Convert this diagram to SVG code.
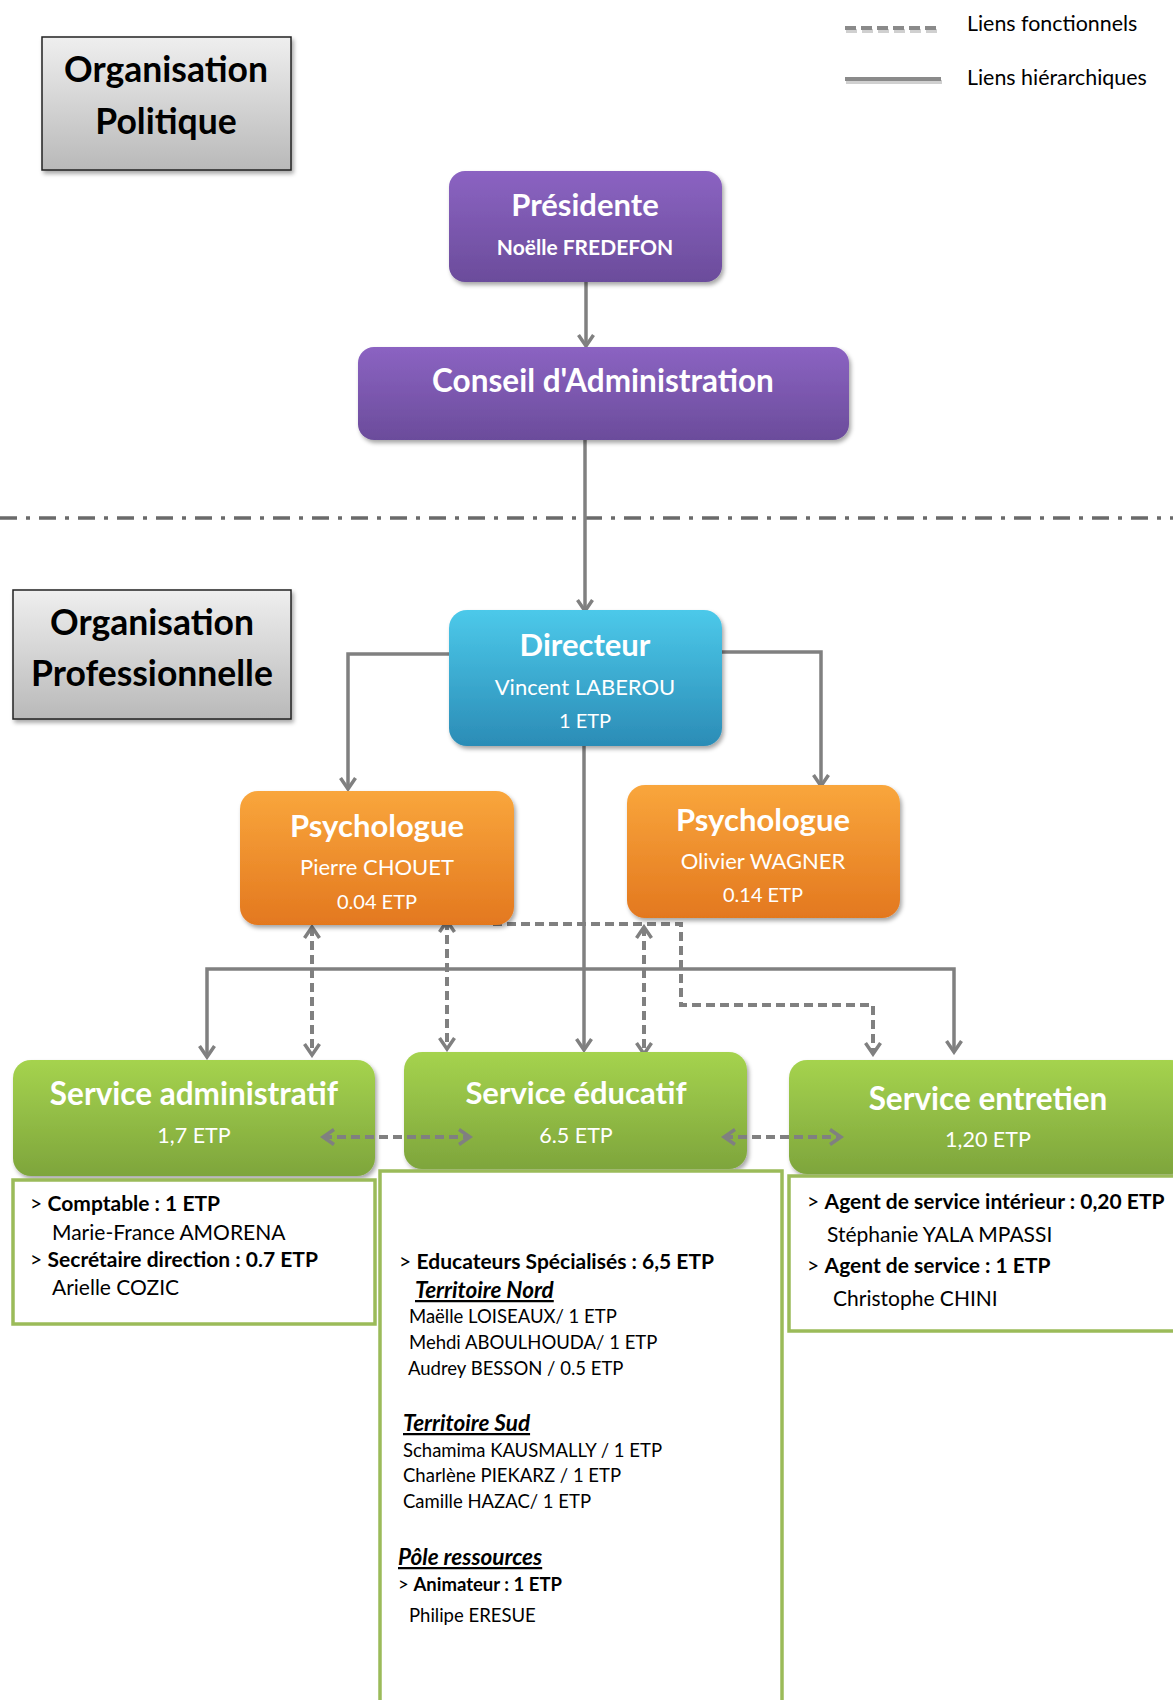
<svg xmlns="http://www.w3.org/2000/svg" width="1173" height="1700" viewBox="0 0 1173 1700">
<style>
text{font-family:Lato,"Open Sans","Liberation Sans",sans-serif}
.t{fill:#fff;text-anchor:middle}
.b{font-weight:bold}
.d{fill:#000;font-size:21px}
.n{fill:#000;font-size:18.5px}
.h{fill:#000;font-size:22.5px;font-weight:bold;font-style:italic;text-decoration:underline}
.conn{fill:none;stroke:#808080;stroke-width:3.5}
.dash{fill:none;stroke:#808080;stroke-width:4;stroke-dasharray:9 5}
.det{fill:#fff;stroke:#9bbb59;stroke-width:3.5}
</style>
<defs>
<linearGradient id="gGrey" x1="0" y1="0" x2="0" y2="1"><stop offset="0" stop-color="#efefef"/><stop offset="1" stop-color="#b9b9b9"/></linearGradient>
<linearGradient id="gPurple" x1="0" y1="0" x2="0" y2="1"><stop offset="0" stop-color="#8b63c2"/><stop offset="1" stop-color="#6b4c9b"/></linearGradient>
<linearGradient id="gBlue" x1="0" y1="0" x2="0" y2="1"><stop offset="0" stop-color="#4cc9ea"/><stop offset="1" stop-color="#2b8cb6"/></linearGradient>
<linearGradient id="gOrange" x1="0" y1="0" x2="0" y2="1"><stop offset="0" stop-color="#f9a63c"/><stop offset="1" stop-color="#e3781f"/></linearGradient>
<linearGradient id="gGreen" x1="0" y1="0" x2="0" y2="1"><stop offset="0" stop-color="#a5d34e"/><stop offset="1" stop-color="#7ea53c"/></linearGradient>
<filter id="sh" x="-10%" y="-10%" width="125%" height="130%"><feDropShadow dx="2" dy="3" stdDeviation="2" flood-opacity="0.35"/></filter>
<marker id="ah" markerUnits="userSpaceOnUse" markerWidth="22" markerHeight="22" viewBox="0 0 22 22" refX="19" refY="11" orient="auto-start-reverse">
<path d="M8,3.5 L19,11 L8,18.5" fill="none" stroke="#808080" stroke-width="3.5"/>
</marker>
</defs>

<g id="legend">
<line x1="846" y1="31" x2="942" y2="31" stroke="#d0d0d0" stroke-width="4" stroke-dasharray="11 5"/>
<line x1="845" y1="28" x2="941" y2="28" stroke="#8a8a8a" stroke-width="4" stroke-dasharray="11 5"/>
<line x1="846" y1="82" x2="942" y2="82" stroke="#d0d0d0" stroke-width="4"/>
<line x1="845" y1="79" x2="941" y2="79" stroke="#8a8a8a" stroke-width="4"/>
<text x="967" y="31" font-size="21.4" fill="#000">Liens fonctionnels</text>
<text x="967" y="85" font-size="21.4" fill="#000">Liens hiérarchiques</text>
</g>

<g id="separator">
<line x1="0" y1="518" x2="1173" y2="518" stroke="#6a6a6a" stroke-width="3.5" stroke-dasharray="17 9 4 9"/>
</g>

<g id="org-politique">
<rect x="42" y="37" width="249" height="133" fill="url(#gGrey)" stroke="#222" stroke-width="1.5" filter="url(#sh)"/>
<text x="166" y="82" font-size="35.5" class="b" text-anchor="middle">Organisation</text>
<text x="166" y="134" font-size="35.5" class="b" text-anchor="middle">Politique</text>
</g>

<g id="org-professionnelle">
<rect x="13" y="590" width="278" height="129" fill="url(#gGrey)" stroke="#222" stroke-width="1.5" filter="url(#sh)"/>
<text x="152" y="635" font-size="35.5" class="b" text-anchor="middle">Organisation</text>
<text x="152" y="686" font-size="35.5" class="b" text-anchor="middle">Professionnelle</text>
</g>

<g id="connectors">
<line class="conn" x1="586" y1="264" x2="586" y2="346" marker-end="url(#ah)"/>
<line class="conn" x1="585" y1="440" x2="585" y2="611" marker-end="url(#ah)"/>
<path class="conn" d="M449,654 H348 V789" marker-end="url(#ah)"/>
<path class="conn" d="M722,652 H821 V786" marker-end="url(#ah)"/>
<line class="conn" x1="584" y1="746" x2="584" y2="1050" marker-end="url(#ah)"/>
<path class="conn" d="M584,969 H207 V1057" marker-end="url(#ah)"/>
<path class="conn" d="M584,969 H954 V1052" marker-end="url(#ah)"/>
<line class="dash" x1="312" y1="927" x2="312" y2="1055" marker-start="url(#ah)" marker-end="url(#ah)"/>
<line class="dash" x1="447" y1="921" x2="447" y2="1049" marker-start="url(#ah)" marker-end="url(#ah)"/>
<line class="dash" x1="644" y1="927" x2="644" y2="1054" marker-start="url(#ah)" marker-end="url(#ah)"/>
<path class="dash" d="M493,924 H681 V1005 H873 V1054" marker-end="url(#ah)"/>
</g>

<g id="presidente">
<rect x="449" y="171" width="273" height="111" rx="16" fill="url(#gPurple)" filter="url(#sh)"/>
<text class="t b" x="585" y="216" font-size="31">Présidente</text>
<text class="t b" x="585" y="255" font-size="21">Noëlle FREDEFON</text>
</g>

<g id="conseil">
<rect x="358" y="347" width="491" height="93" rx="16" fill="url(#gPurple)" filter="url(#sh)"/>
<text class="t b" x="603" y="392" font-size="31.5">Conseil d'Administration</text>
</g>

<g id="directeur">
<rect x="449" y="610" width="273" height="136" rx="18" fill="url(#gBlue)" filter="url(#sh)"/>
<text class="t b" x="585" y="656" font-size="31">Directeur</text>
<text class="t" x="585" y="695" font-size="22">Vincent LABEROU</text>
<text class="t" x="585" y="728" font-size="20">1 ETP</text>
</g>

<g id="psychologue-1">
<rect x="240" y="791" width="274" height="134" rx="18" fill="url(#gOrange)" filter="url(#sh)"/>
<text class="t b" x="377" y="837" font-size="31">Psychologue</text>
<text class="t" x="377" y="875" font-size="22">Pierre CHOUET</text>
<text class="t" x="377" y="909" font-size="20">0.04 ETP</text>
</g>

<g id="psychologue-2">
<rect x="627" y="785" width="273" height="133" rx="18" fill="url(#gOrange)" filter="url(#sh)"/>
<text class="t b" x="763" y="831" font-size="31">Psychologue</text>
<text class="t" x="763" y="869" font-size="22">Olivier WAGNER</text>
<text class="t" x="763" y="902" font-size="20">0.14 ETP</text>
</g>

<g id="service-administratif">
<rect x="13" y="1060" width="362" height="116" rx="18" fill="url(#gGreen)" filter="url(#sh)"/>
<text class="t b" x="194" y="1105" font-size="31.5">Service administratif</text>
<text class="t" x="194" y="1143" font-size="21.5">1,7 ETP</text>
<rect class="det" x="13" y="1180" width="362" height="144"/>
<text class="d" x="30" y="1211">&gt; <tspan class="b">Comptable : 1 ETP</tspan></text>
<text class="d" x="52" y="1240">Marie-France AMORENA</text>
<text class="d" x="30" y="1267">&gt; <tspan class="b">Secrétaire direction : 0.7 ETP</tspan></text>
<text class="d" x="52" y="1295">Arielle COZIC</text>
</g>

<g id="service-educatif">
<rect x="404" y="1052" width="343" height="117" rx="18" fill="url(#gGreen)" filter="url(#sh)"/>
<text class="t b" x="576" y="1104" font-size="31">Service éducatif</text>
<text class="t" x="576" y="1143" font-size="21.5">6.5 ETP</text>
<rect class="det" x="380" y="1171" width="402" height="560"/>
<text class="d" x="399" y="1269">&gt; <tspan class="b">Educateurs Spécialisés : 6,5 ETP</tspan></text>
<text class="h" x="415" y="1298">Territoire Nord</text>
<text class="n" x="409" y="1323">Maëlle LOISEAUX/ 1 ETP</text>
<text class="n" x="409" y="1349">Mehdi ABOULHOUDA/ 1 ETP</text>
<text class="n" x="408" y="1375">Audrey BESSON / 0.5 ETP</text>
<text class="h" x="403" y="1431">Territoire Sud</text>
<text class="n" x="403" y="1457">Schamima KAUSMALLY / 1 ETP</text>
<text class="n" x="403" y="1482">Charlène PIEKARZ / 1 ETP</text>
<text class="n" x="403" y="1508">Camille HAZAC/ 1 ETP</text>
<text class="h" x="398" y="1565">Pôle ressources</text>
<text class="n" x="398" y="1591" font-size="19.5">&gt; <tspan class="b">Animateur : 1 ETP</tspan></text>
<text class="n" x="409" y="1622">Philipe ERESUE</text>
</g>

<g id="service-entretien">
<rect x="789" y="1060" width="400" height="114" rx="18" fill="url(#gGreen)" filter="url(#sh)"/>
<text class="t b" x="988" y="1110" font-size="31.5">Service entretien</text>
<text class="t" x="988" y="1147" font-size="21.5">1,20 ETP</text>
<rect class="det" x="789" y="1176" width="400" height="155"/>
<text class="d" x="807" y="1209">&gt; <tspan class="b">Agent de service intérieur : 0,20 ETP</tspan></text>
<text class="d" x="827" y="1242">Stéphanie YALA MPASSI</text>
<text class="d" x="807" y="1273">&gt; <tspan class="b">Agent de service : 1 ETP</tspan></text>
<text class="d" x="833" y="1306">Christophe CHINI</text>
</g>

<g id="functional-links-horizontal">
<line class="dash" x1="323" y1="1137" x2="470" y2="1137" marker-start="url(#ah)" marker-end="url(#ah)"/>
<line class="dash" x1="724" y1="1137" x2="841" y2="1137" marker-start="url(#ah)" marker-end="url(#ah)"/>
</g>
</svg>
